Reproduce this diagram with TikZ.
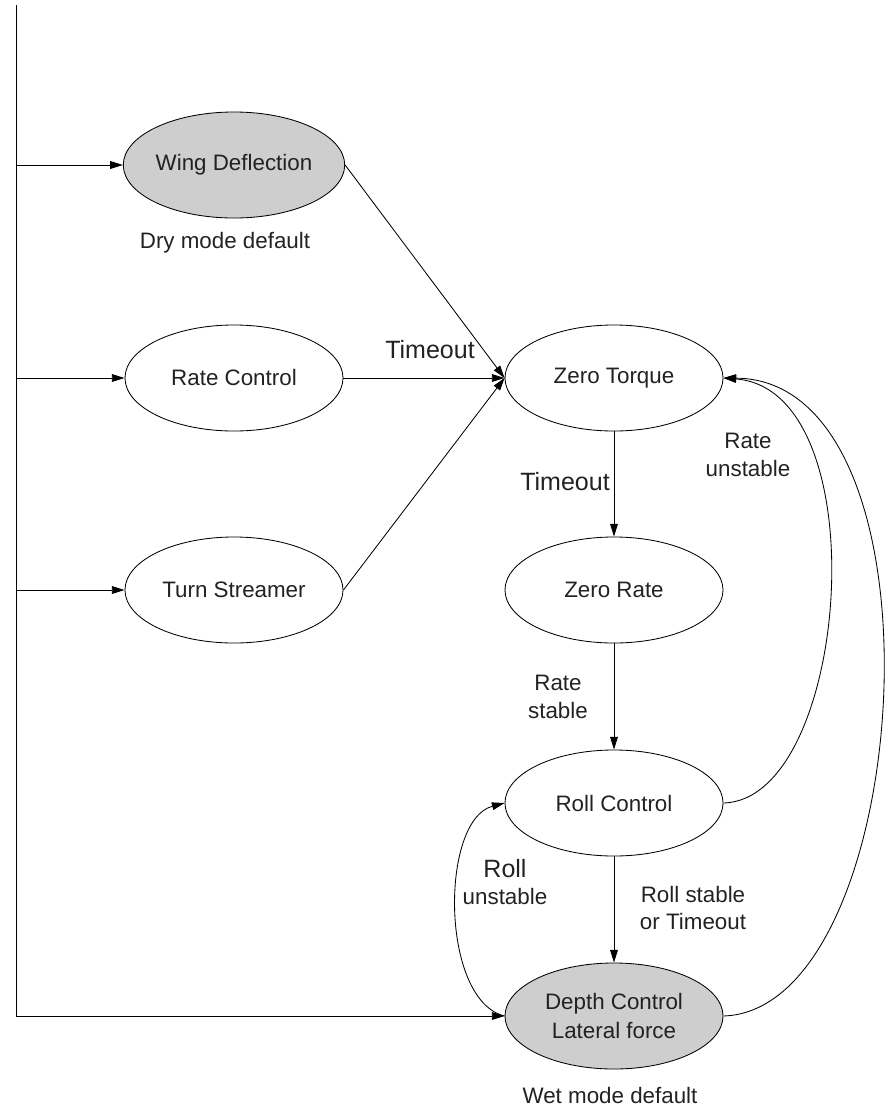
\documentclass[tikz,border=0pt]{standalone}
\usepackage{fontspec}
\setmainfont{Liberation Sans}
\usetikzlibrary{arrows.meta,positioning,shapes.geometric}
\definecolor{stfill}{RGB}{206,206,206}
\definecolor{sttext}{RGB}{34,34,34}
\newcommand{\biglbl}{\fontsize{17.8}{21}\selectfont}
\tikzset{
  stnode/.style={draw, ellipse, fill=#1, font=\fontsize{15.9}{20.5}\selectfont, text=sttext,
                 minimum width=5.45cm, minimum height=2.65cm, inner sep=0pt, align=center,
                 line width=0.6pt},
  stnode/.default=white,
  trans/.style={-{Triangle[length=9pt,width=5.5pt]}, line width=0.6pt},
  lbl/.style={font=\fontsize{15.9}{19.5}\selectfont, text=sttext, align=center, inner sep=0pt},
}
\begin{document}
\begin{tikzpicture}[x=0.025cm, y=-0.025cm]
\useasboundingbox (0,0) rectangle (888,1107);

% --- States ---
\node[stnode=stfill] (wing) at (234,165) {Wing Deflection};
\node[stnode] (rate) at (234,378) {Rate Control};
\node[stnode] (turn) at (234,590) {Turn Streamer};
\node[stnode] (torque) at (614,378) {Zero Torque};
\node[stnode] (zrate) at (614,590) {Zero Rate};
\node[stnode] (roll) at (614,803) {Roll Control};
\node[stnode=stfill] (depth) at (614,1016) {Depth Control\\Lateral force};

\node[lbl] (drylbl) at (225,243) {Dry mode default};
\node[lbl] (wetlbl) at (610,1095) {Wet mode default};

% --- Entry bus on the left ---
\coordinate (bustop) at (16,5);
\coordinate (busbot) at (16,1016);
\draw[line width=0.6pt] (bustop) -- (busbot);
\draw[trans] (bustop |- wing.west) -- (wing.west);
\draw[trans] (bustop |- rate.west) -- (rate.west);
\draw[trans] (bustop |- turn.west) -- (turn.west);
\draw[trans] (busbot) -- (depth.west);

% --- Into Zero Torque ---
\draw[trans] (wing.east) -- (torque.west);
\draw[trans] (rate.east) -- (torque.west);
\draw[trans] (turn.east) -- (torque.west);
\node[lbl, font=\biglbl] (tolbl1) at (430,350) {Timeout};

% --- Main chain ---
\draw[trans] (torque.south) -- (zrate.north);
\node[lbl, font=\biglbl] (tolbl2) at (565,482) {Timeout};
\draw[trans] (zrate.south) -- (roll.north);
\node[lbl] (rslbl) at (558,697) {Rate\\stable};
\draw[trans] (roll.south) -- (depth.north);
\node[lbl] (rotlbl) at (693,908) {Roll stable\\or Timeout};

% --- Back edges ---
\draw[trans] (roll.east) .. controls (850,800) and (880,390) .. (torque.east);
\draw[trans] (depth.east) .. controls (915,1010) and (955,380) .. (torque.east);
\node[lbl] (rulbl) at (748,455) {Rate\\unstable};
\draw[trans] (depth.west) .. controls (440,1000) and (440,820) .. (roll.west);
\node[lbl] (rolbl) at (505,882) {{\biglbl Roll}\\unstable};

\end{tikzpicture}
\end{document}
